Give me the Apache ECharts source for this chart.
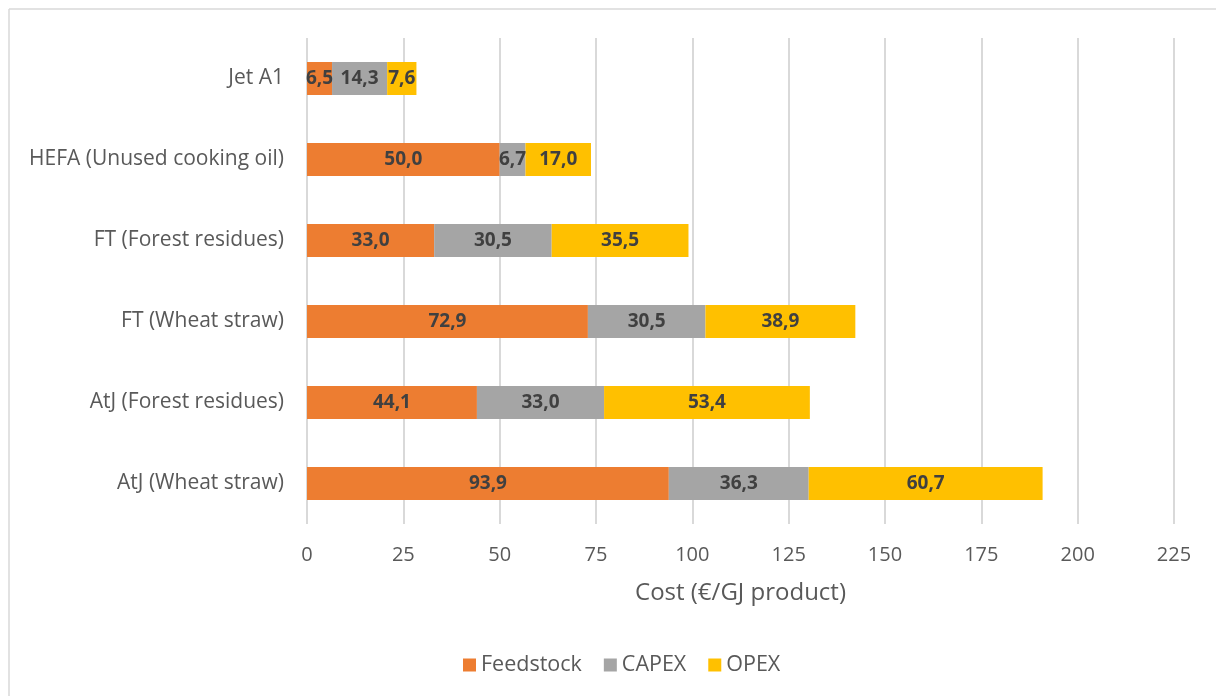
<!DOCTYPE html>
<html><head><meta charset="utf-8">
<script src="https://cdn.jsdelivr.net/npm/echarts@6/dist/echarts.min.js"></script>
<style>html,body{margin:0;padding:0;background:#fff}#c{width:1216px;height:696px}</style>
</head><body><div id="c"></div>
<script>
const categories = ['Jet A1','HEFA (Unused cooking oil)','FT (Forest residues)','FT (Wheat straw)','AtJ (Forest residues)','AtJ (Wheat straw)'];
const feedstock = [6.5, 50.0, 33.0, 72.9, 44.1, 93.9];
const capex = [14.3, 6.7, 30.5, 30.5, 33.0, 36.3];
const opex = [7.6, 17.0, 35.5, 38.9, 53.4, 60.7];
const xTicks = [0,25,50,75,100,125,150,175,200,225];

const FONT = 'Open Sans';
const chart = echarts.init(document.getElementById('c'));
const lbl = {show:true, position:'inside', color:'#404040', fontWeight:'bold', fontSize:19, fontFamily:FONT,
  formatter: p => p.value.toFixed(1).replace('.', ',')};
function s(name, data, color){
  return {name, type:'bar', stack:'t', data, barWidth:33, itemStyle:{color}, label:lbl};
}
chart.setOption({
  animation:false,
  textStyle:{fontFamily:FONT},
  graphic:[
    {type:'line', shape:{x1:9, y1:9, x2:1216, y2:9}, style:{stroke:'#d9d9d9', lineWidth:1.5}},
    {type:'line', shape:{x1:9, y1:9, x2:9, y2:696}, style:{stroke:'#d9d9d9', lineWidth:1.5}}
  ],
  grid:{left:307, right:42, top:38, bottom:172, containLabel:false},
  xAxis:{type:'value', min:0, max:225, interval:25,
    axisLine:{show:false}, axisTick:{show:false},
    splitLine:{lineStyle:{color:'#d9d9d9', width:2}},
    axisLabel:{color:'#595959', fontSize:20, margin:21, fontFamily:FONT,
      formatter: v => xTicks.includes(v) ? String(v) : ''},
    name:'Cost (€/GJ product)', nameLocation:'middle', nameGap:57,
    nameTextStyle:{color:'#595959', fontSize:24, fontFamily:FONT}},
  yAxis:{type:'category', data:categories, inverse:true,
    axisLine:{show:false}, axisTick:{show:false},
    axisLabel:{color:'#595959', fontSize:21, margin:23, fontFamily:FONT}},
  legend:{bottom:15, left:458, itemWidth:13, itemHeight:13, itemGap:22, icon:'rect',
    textStyle:{color:'#595959', fontSize:21.5, fontFamily:FONT}},
  series:[s('Feedstock', feedstock, '#ED7D31'), s('CAPEX', capex, '#A5A5A5'), s('OPEX', opex, '#FFC000')]
});
</script></body></html>
